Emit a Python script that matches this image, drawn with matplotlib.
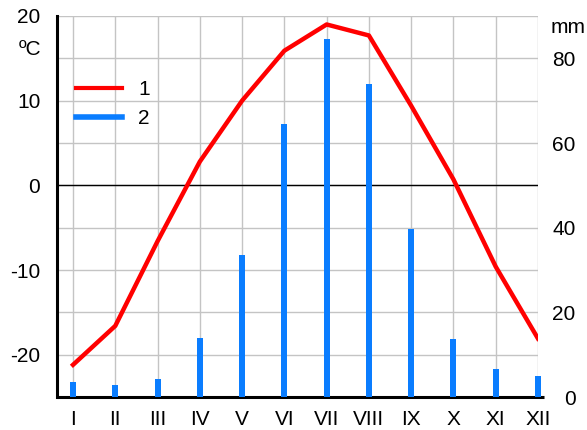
import numpy as np
import matplotlib
matplotlib.use("Agg")
import matplotlib.pyplot as plt

plt.rcParams['font.family'] = ['Liberation Sans', 'DejaVu Sans']
plt.rcParams['axes.unicode_minus'] = False

months = ["I", "II", "III", "IV", "V", "VI", "VII", "VIII", "IX", "X", "XI", "XII"]
temp = [-21.2, -16.6, -6.6, 2.8, 10.0, 15.9, 19.0, 17.7, 9.4, 0.7, -9.6, -18.1]
precip = [3.5, 2.8, 4.2, 14.0, 33.6, 64.5, 84.6, 74.0, 39.6, 13.7, 6.6, 5.0]

red = '#ff0000'
blue = '#0a7dff'
grid_col = '#c4c4c4'

fig = plt.figure(figsize=(5.87, 4.30), dpi=100)
ax = fig.add_axes([0.097, 0.0767, 0.8195, 0.8861])
ax2 = ax.twinx()
line_ax = ax.twinx()

x = np.arange(len(months))

# temperature axis: -25..20, precipitation axis: 0..90 (0 mm at -25 C)
ax.set_xlim(-0.38, 11)
ax.set_ylim(-25, 20)
ax2.set_ylim(0, 90)
line_ax.set_ylim(-25, 20)

ax.set_yticks([20, 10, 0, -10, -20])
ax.set_yticks(np.arange(-20, 21, 5), minor=True)
ax.set_xticks(x)
ax.set_xticklabels(months)
ax2.set_yticks([0, 20, 40, 60, 80])

ax.grid(True, which='both', axis='y', color=grid_col, lw=1)
ax.grid(True, which='major', axis='x', color=grid_col, lw=1)
ax.set_axisbelow(True)
ax.axhline(0, color='black', lw=1, zorder=2)

ax.tick_params(axis='both', which='both', length=0, labelsize=15)
ax.tick_params(axis='y', pad=12)
ax.tick_params(axis='x', pad=9)
ax2.tick_params(axis='y', length=0, labelsize=15, pad=27)
for lab in ax2.get_yticklabels():
    lab.set_horizontalalignment('right')

for a in (ax, ax2, line_ax):
    for s in ['top', 'right', 'bottom']:
        a.spines[s].set_visible(False)
ax2.spines['left'].set_visible(False)
line_ax.spines['left'].set_visible(False)
line_ax.set_yticks([])
ax.spines['left'].set_linewidth(2.2)
ax.plot([0, 1.012], [0, 0], transform=ax.transAxes, color='black', lw=2.2,
        clip_on=False, zorder=5, solid_capstyle='butt')

# precipitation bars
bars = ax2.bar(x, precip, width=0.14, color=blue, zorder=3)
for b in bars:
    b.set_clip_on(False)
ax2.set_zorder(ax.get_zorder() + 1)
ax2.patch.set_visible(False)

# temperature line on top
line_ax.set_zorder(ax2.get_zorder() + 1)
line_ax.patch.set_visible(False)
line_ax.plot(x, temp, color=red, lw=3.2)

# legend
h1, = line_ax.plot([], [], color=red, lw=3)
h2, = line_ax.plot([], [], color=blue, lw=4)
line_ax.legend([h1, h2], ['1', '2'], loc='upper left', bbox_to_anchor=(0.0, 0.88),
               frameon=False, fontsize=15, handlelength=2.2, handletextpad=0.8,
               labelspacing=0.45)

fig.text(0.052, 0.885, 'ºC', fontsize=15, ha='center', va='center')
fig.text(0.968, 0.937, 'mm', fontsize=15, ha='center', va='center')

fig.savefig('out.png', dpi=100)
